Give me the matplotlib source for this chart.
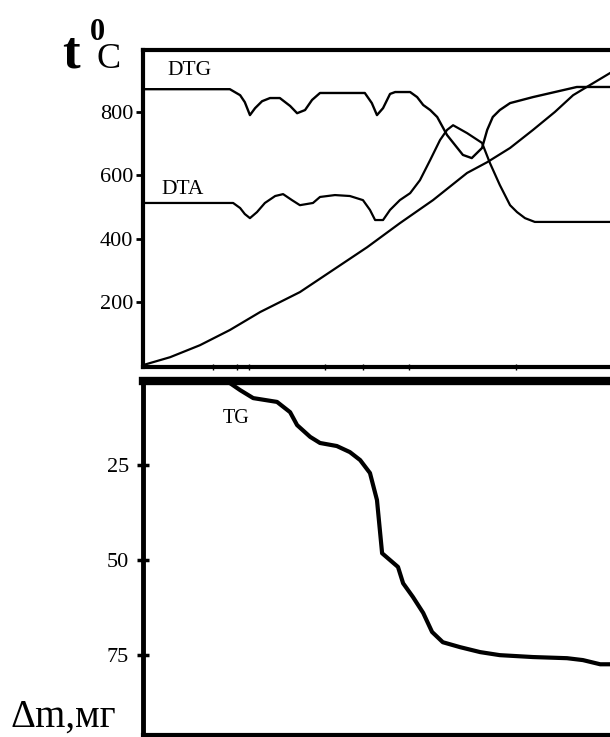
"""
Thermogram: DTG, DTA, T and TG curves
"""
import numpy as np
import matplotlib.pyplot as plt

plt.rcParams['font.family'] = ['Liberation Serif', 'DejaVu Serif']

# time axis is arbitrary (0..100 over the visible part of the record)
# --- temperature curve T, degrees C
t_x = [0, 5.8, 12.2, 18.6, 25.1, 33.6, 40.7, 48.0, 55.0, 62.1, 69.4, 73.7,
       78.6, 83.5, 88.2, 92.1, 95.7, 100]
t_y = [0, 25, 63, 111, 168, 231, 301, 373, 449, 522, 608, 642,
       687, 744, 801, 854, 886, 924]

# --- DTG curve (drawn in the same axis units)
dtg_x = [0, 18.6, 20.8, 21.8, 22.9, 24.0, 25.5, 27.2, 29.3, 31.5, 33.0, 34.7,
         36.2, 37.9, 47.5, 49.0, 50.1, 51.4, 52.9, 54.0, 57.2, 58.7, 60.0,
         61.5, 63.0, 65.1, 68.5, 70.4, 72.6, 73.7, 74.9, 76.4, 78.6, 83.5,
         88.2, 92.9, 100]
dtg_y = [873, 873, 854, 832, 791, 813, 835, 845, 845, 820, 797, 807,
         839, 861, 861, 829, 791, 813, 858, 864, 864, 848, 823,
         807, 785, 728, 665, 655, 687, 744, 785, 807, 829, 848,
         864, 880, 880]

# --- DTA curve
dta_x = [0, 19.3, 20.8, 21.8, 22.9, 24.4, 26.1, 28.3, 30.0, 31.9, 33.6, 36.4,
         37.9, 41.1, 44.3, 47.1, 48.6, 49.7, 51.4, 52.9, 55.0, 57.2, 59.3,
         61.5, 63.6, 65.1, 66.4, 69.4, 72.6, 74.3, 76.4, 78.6, 80.1, 81.8,
         83.9, 100]
dta_y = [513, 513, 497, 478, 465, 484, 513, 535, 541, 522, 506, 513,
         532, 538, 535, 522, 491, 459, 459, 491, 522, 544, 585,
         649, 712, 744, 759, 734, 703, 639, 570, 506, 484, 465,
         453, 453]

# --- TG curve, mass loss in mg
tg_x = [17.6, 20.8, 23.6, 28.7, 31.5, 33.0, 35.8, 37.9, 41.5, 44.3, 46.5,
        48.6, 50.1, 51.2, 52.9, 54.6, 55.7, 57.8, 60.0, 61.9, 64.2, 67.9,
        72.2, 76.4, 83.5, 90.8, 94.2, 97.9, 100]
tg_y = [2.6, 5.3, 7.4, 8.4, 11.1, 14.5, 17.6, 19.2, 20.0, 21.6, 23.7,
        27.1, 34.2, 48.2, 50.0, 51.8, 56.1, 59.7, 63.9, 68.9, 71.6, 72.9,
        74.2, 75.0, 75.5, 75.8, 76.3, 77.4, 77.4]

temp_ticks = [200, 400, 600, 800]
mass_ticks = [25, 50, 75]
minor_x = [15.0, 20.1, 22.7, 39.0, 47.1, 57.0, 79.9]

W, H = 610, 737
fig = plt.figure(figsize=(W / 100, H / 100), dpi=100)

# top panel
ax1 = fig.add_axes([143 / W, 1 - 367 / H, 1 - 143 / W, 317 / H])
ax1.plot(t_x, t_y, color='black', lw=1.6)
ax1.plot(dtg_x, dtg_y, color='black', lw=1.7)
ax1.plot(dta_x, dta_y, color='black', lw=1.6)
ax1.set_xlim(0, 100)
ax1.set_ylim(-6, 997)
ax1.set_yticks(temp_ticks)
ax1.set_yticklabels([str(v) for v in temp_ticks], fontsize=16)
ax1.set_xticks(minor_x)
ax1.set_xticklabels([])
ax1.tick_params(axis='y', direction='out', length=5, width=2, pad=2)
ax1.tick_params(axis='x', direction='inout', length=5, width=1)
for s in ['top', 'left', 'bottom']:
    ax1.spines[s].set_linewidth(3)
ax1.spines['right'].set_visible(False)
ax1.text(0.052, 0.92, 'DTG', transform=ax1.transAxes, fontsize=15.5)
ax1.text(0.04, 0.545, 'DTA', transform=ax1.transAxes, fontsize=15.5)

# bottom panel
ax2 = fig.add_axes([143 / W, 1 - 735 / H, 1 - 143 / W, 354 / H])
ax2.plot(tg_x, tg_y, color='black', lw=3)
ax2.set_xlim(0, 100)
ax2.set_ylim(96, 2.9)
ax2.set_yticks(mass_ticks)
ax2.set_yticklabels([str(v) for v in mass_ticks], fontsize=16)
ax2.set_xticks([])
ax2.tick_params(axis='y', direction='inout', length=8, width=2.5, pad=6)
ax2.spines['top'].set_linewidth(6)
ax2.spines['left'].set_linewidth(3.5)
ax2.spines['bottom'].set_linewidth(3)
ax2.spines['right'].set_visible(False)
ax2.text(0.17, 0.88, 'TG', transform=ax2.transAxes, fontsize=14.5)

# axis captions
fig.text(62 / W, 1 - 68 / H, 't', fontsize=38, fontweight='bold', va='baseline')
fig.text(90 / W, 1 - 40 / H, '0', fontsize=22, fontweight='bold', va='baseline')
fig.text(96 / W, 1 - 68 / H, 'C', fontsize=26, va='baseline')
fig.text(10 / W, 1 - 727 / H, 'Δm,мг', fontsize=28, va='baseline')

plt.savefig('out.png', dpi=100)
